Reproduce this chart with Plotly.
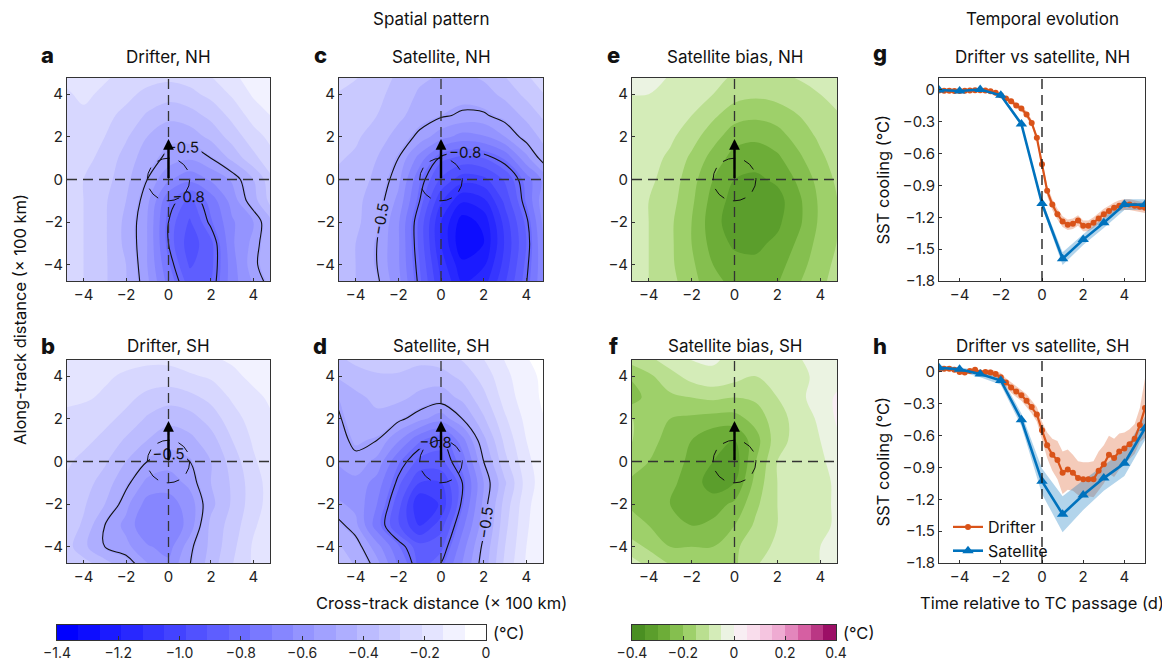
import numpy as np
import plotly.graph_objects as go

# window is 1170x663; the page body adds an 8px margin, so the figure is drawn 8px in
W_WIN, H_WIN = 1170, 663
OFF = 8
W, H = W_WIN - OFF, H_WIN - OFF
FONT = "Inter"

# ---------------- spatial composites (value grids, rows from y=+5 down to y=-5) ----------------
GRID_X = [-5, -4, -3, -2, -1, 0, 1, 2, 3, 4, 5]
GRID_Y = [5, 4, 3, 2, 1, 0, -1, -2, -3, -4, -5]

DRIFTER_NH = [
    [-0.20, -0.18, -0.20, -0.22, -0.24, -0.25, -0.24, -0.20, -0.15, -0.10, -0.08],
    [-0.22, -0.20, -0.22, -0.26, -0.30, -0.32, -0.30, -0.26, -0.20, -0.13, -0.10],
    [-0.22, -0.22, -0.26, -0.30, -0.36, -0.40, -0.38, -0.33, -0.26, -0.18, -0.13],
    [-0.22, -0.24, -0.28, -0.34, -0.42, -0.47, -0.46, -0.40, -0.32, -0.24, -0.18],
    [-0.24, -0.26, -0.30, -0.38, -0.46, -0.52, -0.55, -0.50, -0.40, -0.30, -0.22],
    [-0.26, -0.28, -0.32, -0.40, -0.50, -0.62, -0.68, -0.62, -0.55, -0.42, -0.28],
    [-0.26, -0.28, -0.34, -0.42, -0.54, -0.76, -0.86, -0.74, -0.60, -0.45, -0.30],
    [-0.26, -0.28, -0.34, -0.44, -0.56, -0.80, -0.92, -0.78, -0.64, -0.56, -0.40],
    [-0.26, -0.28, -0.34, -0.44, -0.56, -0.80, -0.95, -0.86, -0.64, -0.54, -0.40],
    [-0.26, -0.28, -0.34, -0.42, -0.56, -0.76, -0.92, -0.86, -0.66, -0.52, -0.42],
    [-0.26, -0.28, -0.34, -0.42, -0.54, -0.72, -0.86, -0.84, -0.66, -0.56, -0.46],
]

SATELLITE_NH = [
    [-0.26, -0.27, -0.30, -0.36, -0.40, -0.42, -0.42, -0.40, -0.34, -0.28, -0.22],
    [-0.28, -0.30, -0.33, -0.38, -0.43, -0.46, -0.47, -0.45, -0.40, -0.33, -0.27],
    [-0.30, -0.32, -0.35, -0.40, -0.46, -0.49, -0.51, -0.51, -0.47, -0.40, -0.32],
    [-0.32, -0.34, -0.38, -0.45, -0.52, -0.60, -0.66, -0.64, -0.56, -0.47, -0.38],
    [-0.34, -0.36, -0.42, -0.50, -0.66, -0.82, -0.86, -0.84, -0.76, -0.58, -0.44],
    [-0.36, -0.38, -0.44, -0.54, -0.76, -0.92, -1.02, -1.00, -0.90, -0.74, -0.58],
    [-0.36, -0.40, -0.46, -0.58, -0.80, -1.04, -1.18, -1.14, -0.96, -0.76, -0.54],
    [-0.36, -0.40, -0.48, -0.62, -0.86, -1.12, -1.30, -1.24, -1.02, -0.82, -0.56],
    [-0.38, -0.42, -0.50, -0.62, -0.86, -1.12, -1.32, -1.26, -1.04, -0.84, -0.58],
    [-0.38, -0.42, -0.50, -0.62, -0.84, -1.08, -1.24, -1.20, -1.02, -0.82, -0.60],
    [-0.38, -0.42, -0.48, -0.60, -0.82, -1.04, -1.18, -1.14, -0.98, -0.80, -0.60],
]

DRIFTER_SH = [
    [-0.12, -0.14, -0.16, -0.18, -0.18, -0.18, -0.16, -0.14, -0.12, -0.10, -0.08],
    [-0.18, -0.18, -0.20, -0.22, -0.24, -0.24, -0.22, -0.20, -0.16, -0.12, -0.10],
    [-0.20, -0.20, -0.22, -0.26, -0.30, -0.32, -0.30, -0.26, -0.20, -0.16, -0.12],
    [-0.22, -0.24, -0.26, -0.30, -0.36, -0.40, -0.38, -0.32, -0.24, -0.18, -0.14],
    [-0.24, -0.26, -0.30, -0.36, -0.42, -0.46, -0.44, -0.38, -0.28, -0.20, -0.15],
    [-0.26, -0.30, -0.34, -0.42, -0.50, -0.53, -0.50, -0.42, -0.32, -0.22, -0.16],
    [-0.28, -0.32, -0.38, -0.48, -0.58, -0.60, -0.54, -0.42, -0.34, -0.24, -0.17],
    [-0.30, -0.34, -0.42, -0.54, -0.66, -0.66, -0.60, -0.44, -0.34, -0.24, -0.17],
    [-0.30, -0.36, -0.50, -0.58, -0.70, -0.70, -0.60, -0.40, -0.32, -0.22, -0.16],
    [-0.30, -0.40, -0.50, -0.54, -0.62, -0.66, -0.52, -0.40, -0.30, -0.20, -0.15],
    [-0.28, -0.30, -0.36, -0.44, -0.54, -0.60, -0.50, -0.38, -0.28, -0.20, -0.15],
]

SATELLITE_SH = [
    [-0.36, -0.32, -0.30, -0.30, -0.32, -0.30, -0.26, -0.20, -0.13, -0.07, -0.04],
    [-0.42, -0.38, -0.36, -0.36, -0.38, -0.38, -0.33, -0.25, -0.16, -0.09, -0.05],
    [-0.50, -0.44, -0.40, -0.40, -0.44, -0.46, -0.40, -0.30, -0.18, -0.10, -0.05],
    [-0.52, -0.46, -0.44, -0.48, -0.54, -0.60, -0.50, -0.36, -0.22, -0.12, -0.06],
    [-0.54, -0.48, -0.50, -0.62, -0.76, -0.82, -0.66, -0.44, -0.26, -0.14, -0.07],
    [-0.56, -0.52, -0.58, -0.76, -0.86, -0.86, -0.74, -0.50, -0.30, -0.16, -0.08],
    [-0.60, -0.58, -0.66, -0.82, -0.98, -0.98, -0.80, -0.56, -0.36, -0.18, -0.08],
    [-0.54, -0.58, -0.70, -0.88, -1.12, -1.04, -0.78, -0.54, -0.32, -0.16, -0.07],
    [-0.46, -0.54, -0.74, -0.90, -1.06, -0.94, -0.72, -0.52, -0.30, -0.15, -0.07],
    [-0.40, -0.46, -0.60, -0.76, -0.88, -0.86, -0.66, -0.48, -0.28, -0.14, -0.07],
    [-0.36, -0.42, -0.52, -0.70, -0.84, -0.78, -0.62, -0.46, -0.26, -0.13, -0.07],
]

BIAS_NH = [
    [-0.04, -0.04, -0.05, -0.06, -0.08, -0.10, -0.10, -0.10, -0.09, -0.08, -0.07],
    [-0.05, -0.05, -0.06, -0.08, -0.10, -0.13, -0.14, -0.13, -0.12, -0.10, -0.08],
    [-0.06, -0.06, -0.07, -0.10, -0.14, -0.18, -0.19, -0.18, -0.15, -0.12, -0.10],
    [-0.07, -0.07, -0.09, -0.13, -0.18, -0.23, -0.24, -0.22, -0.18, -0.14, -0.11],
    [-0.07, -0.08, -0.11, -0.16, -0.22, -0.27, -0.28, -0.26, -0.21, -0.16, -0.12],
    [-0.08, -0.09, -0.12, -0.18, -0.25, -0.30, -0.31, -0.29, -0.24, -0.18, -0.13],
    [-0.08, -0.10, -0.13, -0.19, -0.27, -0.32, -0.34, -0.32, -0.26, -0.19, -0.14],
    [-0.08, -0.10, -0.14, -0.20, -0.28, -0.33, -0.33, -0.31, -0.26, -0.19, -0.14],
    [-0.09, -0.10, -0.14, -0.20, -0.27, -0.31, -0.31, -0.29, -0.24, -0.18, -0.14],
    [-0.08, -0.10, -0.14, -0.19, -0.25, -0.28, -0.29, -0.27, -0.22, -0.17, -0.13],
    [-0.08, -0.10, -0.13, -0.18, -0.23, -0.26, -0.27, -0.25, -0.20, -0.16, -0.12],
]

BIAS_SH = [
    [-0.12, -0.10, -0.06, -0.04, -0.04, -0.06, -0.08, -0.07, -0.05, -0.04, -0.04],
    [-0.20, -0.16, -0.12, -0.08, -0.06, -0.08, -0.10, -0.08, -0.06, -0.04, -0.02],
    [-0.24, -0.18, -0.16, -0.15, -0.14, -0.15, -0.14, -0.10, -0.06, -0.03, 0.02],
    [-0.14, -0.18, -0.20, -0.21, -0.22, -0.22, -0.18, -0.12, -0.08, -0.04, 0.02],
    [-0.14, -0.18, -0.22, -0.25, -0.29, -0.30, -0.22, -0.12, -0.08, -0.05, 0.00],
    [-0.16, -0.20, -0.23, -0.26, -0.30, -0.33, -0.20, -0.10, -0.08, -0.06, -0.02],
    [-0.20, -0.22, -0.24, -0.27, -0.33, -0.30, -0.18, -0.10, -0.08, -0.06, -0.04],
    [-0.20, -0.22, -0.25, -0.28, -0.27, -0.24, -0.16, -0.10, -0.07, -0.06, -0.04],
    [-0.18, -0.20, -0.24, -0.25, -0.24, -0.20, -0.14, -0.10, -0.07, -0.06, -0.04],
    [-0.12, -0.16, -0.20, -0.20, -0.20, -0.16, -0.12, -0.09, -0.06, -0.05, -0.04],
    [-0.06, -0.10, -0.14, -0.16, -0.18, -0.16, -0.10, -0.08, -0.06, -0.05, -0.04],
]

CONTOUR_LINE_LEVELS = [-0.8, -0.5]

# ---------------- temporal evolution ----------------
T_DRIFTER = [-5.0, -4.75, -4.5, -4.25, -4.0, -3.75, -3.5, -3.25, -3.0, -2.75, -2.5, -2.25,
             -2.0, -1.75, -1.5, -1.25, -1.0, -0.75, -0.5, -0.25, 0.0, 0.25, 0.5, 0.75,
             1.0, 1.25, 1.5, 1.75, 2.0, 2.25, 2.5, 2.75, 3.0, 3.25, 3.5, 3.75,
             4.0, 4.25, 4.5, 4.75, 5.0]
T_SATELLITE = [-5, -4, -3, -2, -1, 0, 1, 2, 3, 4, 5]

DRIFTER_NH_T = [-0.005, -0.006, -0.008, -0.010, -0.010, -0.008, -0.004, -0.002, -0.002, -0.005, -0.012, -0.025,
                -0.05, -0.08, -0.105, -0.145, -0.175, -0.23, -0.31, -0.45, -0.70, -0.95, -1.08, -1.17,
                -1.24, -1.27, -1.26, -1.23, -1.28, -1.28, -1.25, -1.21, -1.17, -1.14, -1.11, -1.09,
                -1.08, -1.08, -1.09, -1.10, -1.11]
DRIFTER_NH_ERR = [0.02, 0.02, 0.02, 0.02, 0.02, 0.02, 0.02, 0.02, 0.02, 0.02, 0.02, 0.02,
                  0.02, 0.02, 0.025, 0.025, 0.025, 0.03, 0.03, 0.03, 0.04, 0.05, 0.05, 0.05,
                  0.05, 0.05, 0.05, 0.05, 0.05, 0.05, 0.05, 0.05, 0.05, 0.05, 0.05, 0.05,
                  0.05, 0.05, 0.05, 0.05, 0.05]
SATELLITE_NH_T = [0.0, -0.01, 0.005, -0.05, -0.32, -1.07, -1.59, -1.41, -1.25, -1.08, -1.08]
SATELLITE_NH_ERR = [0.01, 0.01, 0.01, 0.015, 0.02, 0.03, 0.06, 0.05, 0.05, 0.05, 0.05]

DRIFTER_SH_T = [0.025, 0.03, 0.03, 0.02, 0.0, -0.005, 0.01, 0.02, -0.005, 0.0, -0.005, -0.02,
                -0.05, -0.10, -0.145, -0.185, -0.22, -0.27, -0.33, -0.40, -0.55, -0.69, -0.78, -0.83,
                -0.95, -0.92, -0.95, -1.00, -1.01, -1.01, -1.01, -0.93, -0.87, -0.78, -0.81, -0.75,
                -0.72, -0.68, -0.63, -0.50, -0.34]
DRIFTER_SH_ERR = [0.02, 0.02, 0.02, 0.02, 0.02, 0.02, 0.02, 0.02, 0.02, 0.02, 0.03, 0.03,
                  0.04, 0.04, 0.05, 0.05, 0.05, 0.06, 0.06, 0.07, 0.08, 0.12, 0.15, 0.18,
                  0.2, 0.19, 0.17, 0.16, 0.16, 0.16, 0.17, 0.18, 0.18, 0.18, 0.18, 0.17,
                  0.15, 0.14, 0.14, 0.16, 0.28]
SATELLITE_SH_T = [0.04, 0.025, -0.02, -0.08, -0.45, -1.03, -1.34, -1.16, -1.0, -0.86, -0.53]
SATELLITE_SH_ERR = [0.02, 0.02, 0.03, 0.04, 0.06, 0.12, 0.17, 0.14, 0.12, 0.12, 0.11]

# ---------------- colour scales ----------------
BLUE_MIN, BLUE_MAX, BLUE_STEP = -1.4, 0.0, 0.07
GREEN_MIN, GREEN_MAX, GREEN_STEP = -0.4, 0.4, 0.05
BLUE_TICKS = [-1.4, -1.2, -1.0, -0.8, -0.6, -0.4, -0.2, 0]
BLUE_TICK_LABELS = ["\u22121.4", "\u22121.2", "\u22121.0", "\u22120.8", "\u22120.6", "\u22120.4", "\u22120.2", "0"]
GREEN_TICKS = [-0.4, -0.2, 0, 0.2, 0.4]
GREEN_TICK_LABELS = ["\u22120.4", "\u22120.2", "0", "0.2", "0.4"]
BLUE_SCALE = [[0, "#0000ff"], [1, "#ffffff"]]
GREEN_SCALE = [[0, "#4a8f22"], [0.125, "#6aab35"], [0.25, "#97cc60"], [0.375, "#cbe9a8"],
               [0.5, "#f7f7f7"], [0.625, "#f9d6e9"], [0.75, "#eda4cf"], [0.875, "#d45a9f"],
               [1, "#9c0f66"]]

ORANGE = "#D95319"
BLUE = "#0072BD"

MAP_TICKS = [-4, -2, 0, 2, 4]
COOL_TICKS = [0, -0.3, -0.6, -0.9, -1.2, -1.5, -1.8]

# ---------------- layout geometry (window pixels) ----------------
MAP_COLS = [(67, 270), (339, 543), (632, 837)]
LINE_COL = (939, 1145)
ROWS = [(78, 281), (360, 563)]
CBAR_ROW = (625, 640)
TICK_SIZE = 15
TITLE_SIZE = 17
LABEL_SIZE = 16.5


def px(x):
    return (x - OFF) / W


def py(y):
    return 1 - (y - OFF) / H


def dx(a, b):
    return [px(a), px(b)]


def dy(top, bottom):
    return [py(bottom), py(top)]


fig = go.Figure()
layout = dict(width=W, height=H, margin=dict(l=0, r=0, t=0, b=0, autoexpand=False),
              paper_bgcolor="white", plot_bgcolor="white",
              font=dict(family=FONT, size=TICK_SIZE, color="#222"), showlegend=True)
shapes, annotations = [], []

axis_common = dict(showline=True, mirror=True, linecolor="#333", linewidth=1,
                   ticks="inside", ticklen=3, tickcolor="#333", automargin=False,
                   tickfont=dict(family=FONT, size=TICK_SIZE, color="#222"),
                   showgrid=False, zeroline=False)

gy_asc = GRID_Y[::-1]

panels = [
    (1, "blue", DRIFTER_NH, "Drifter, NH", "a", 0, 0),
    (2, "blue", SATELLITE_NH, "Satellite, NH", "c", 1, 0),
    (3, "green", BIAS_NH, "Satellite bias, NH", "e", 2, 0),
    (5, "blue", DRIFTER_SH, "Drifter, SH", "b", 0, 1),
    (6, "blue", SATELLITE_SH, "Satellite, SH", "d", 1, 1),
    (7, "green", BIAS_SH, "Satellite bias, SH", "f", 2, 1),
]


def ax_names(i):
    s = "" if i == 1 else str(i)
    return "x" + s, "y" + s, "xaxis" + s, "yaxis" + s


def add_text(text, x, y, size=TITLE_SIZE, angle=0, xanchor="center", bold=False):
    f = dict(family=FONT, size=size, color="#111")
    if bold:
        f["weight"] = 800
    annotations.append(dict(text=text, x=px(x), y=py(y), xref="paper", yref="paper",
                            showarrow=False, xanchor=xanchor, yanchor="middle",
                            textangle=angle, font=f))


for (i, kind, data, title, letter, col, row) in panels:
    xr, yr, xa, ya = ax_names(i)
    z = data[::-1]
    if kind == "blue":
        scale, lo, hi, st = BLUE_SCALE, BLUE_MIN, BLUE_MAX, BLUE_STEP
    else:
        scale, lo, hi, st = GREEN_SCALE, GREEN_MIN, GREEN_MAX, GREEN_STEP
    fig.add_trace(go.Contour(x=GRID_X, y=gy_asc, z=z, xaxis=xr, yaxis=yr,
                             colorscale=scale, autocontour=False,
                             contours=dict(start=lo + st, end=hi - st / 2, size=st,
                                           coloring="fill", showlines=False),
                             line=dict(width=0, smoothing=1.0),
                             showscale=False, hoverinfo="skip", showlegend=False))
    if kind == "blue":
        fig.add_trace(go.Contour(x=GRID_X, y=gy_asc, z=z, xaxis=xr, yaxis=yr,
                                 autocontour=False,
                                 contours=dict(start=CONTOUR_LINE_LEVELS[0], end=CONTOUR_LINE_LEVELS[1] + 0.01,
                                               size=CONTOUR_LINE_LEVELS[1] - CONTOUR_LINE_LEVELS[0],
                                               coloring="none", showlabels=True, labelformat=".1f",
                                               labelfont=dict(family=FONT, size=15, color="#111")),
                                 line=dict(color="#111", width=1.1, smoothing=1.0),
                                 showscale=False, hoverinfo="skip", showlegend=False))
    x0, x1 = MAP_COLS[col]
    t0, t1 = ROWS[row]
    layout[xa] = dict(axis_common, domain=dx(x0, x1), range=[-4.78, 4.78], tickvals=MAP_TICKS, anchor=yr)
    layout[ya] = dict(axis_common, domain=dy(t0, t1), range=[-4.76, 4.76], tickvals=MAP_TICKS, anchor=xr)
    dash = dict(color="#333", width=1.3, dash="10px,6px")
    shapes.append(dict(type="line", xref=xr, yref=ya.replace("yaxis", "y") + " domain",
                       x0=0, x1=0, y0=0, y1=1, line=dash, layer="above"))
    shapes.append(dict(type="line", xref=xa.replace("xaxis", "x") + " domain", yref=yr,
                       x0=0, x1=1, y0=0, y1=0, line=dash, layer="above"))
    shapes.append(dict(type="circle", xref=xr, yref=yr, x0=-1, y0=-1, x1=1, y1=1,
                       line=dict(color="#111", width=1, dash="13px,9px"), layer="above"))
    annotations.append(dict(x=0, y=1.9, ax=0, ay=0, xref=xr, yref=yr, axref=xr, ayref=yr,
                            text="", showarrow=True, arrowhead=2, arrowsize=0.9, arrowwidth=2.4,
                            arrowcolor="#000"))
    add_text(title, (x0 + x1) / 2, 57 if row == 0 else 346)
    add_text(letter, x0 - 19, 55 if row == 0 else 346, size=22, bold=True)

# ---------------- line panels ----------------
line_panels = [
    (4, 0, DRIFTER_NH_T, DRIFTER_NH_ERR, SATELLITE_NH_T, SATELLITE_NH_ERR, "Drifter vs satellite, NH", "g", False),
    (8, 1, DRIFTER_SH_T, DRIFTER_SH_ERR, SATELLITE_SH_T, SATELLITE_SH_ERR, "Drifter vs satellite, SH", "h", True),
]
for (i, row, dv, de, sv, se, title, letter, leg) in line_panels:
    xr, yr, xa, ya = ax_names(i)
    d_up = [v + e for v, e in zip(dv, de)]
    d_lo = [v - e for v, e in zip(dv, de)]
    s_up = [v + e for v, e in zip(sv, se)]
    s_lo = [v - e for v, e in zip(sv, se)]
    fig.add_trace(go.Scatter(x=T_DRIFTER + T_DRIFTER[::-1], y=d_up + d_lo[::-1], fill="toself",
                             fillcolor="rgba(217,83,25,0.3)", line=dict(width=0), mode="lines",
                             xaxis=xr, yaxis=yr, showlegend=False, hoverinfo="skip"))
    fig.add_trace(go.Scatter(x=T_SATELLITE + T_SATELLITE[::-1], y=s_up + s_lo[::-1], fill="toself",
                             fillcolor="rgba(0,114,189,0.3)", line=dict(width=0), mode="lines",
                             xaxis=xr, yaxis=yr, showlegend=False, hoverinfo="skip"))
    fig.add_trace(go.Scatter(x=T_DRIFTER, y=dv, mode="lines+markers", name="Drifter",
                             line=dict(color=ORANGE, width=2.2), marker=dict(symbol="circle", size=6, color=ORANGE),
                             xaxis=xr, yaxis=yr, showlegend=leg))
    fig.add_trace(go.Scatter(x=T_SATELLITE, y=sv, mode="lines+markers", name="Satellite",
                             line=dict(color=BLUE, width=2.6), marker=dict(symbol="triangle-up", size=10, color=BLUE),
                             xaxis=xr, yaxis=yr, showlegend=leg))
    x0, x1 = LINE_COL
    t0, t1 = ROWS[row]
    layout[xa] = dict(axis_common, domain=dx(x0, x1), range=[-5, 5], tickvals=MAP_TICKS, anchor=yr)
    layout[ya] = dict(axis_common, domain=dy(t0, t1), range=[-1.8, 0.113], tickvals=COOL_TICKS, anchor=xr)
    shapes.append(dict(type="line", xref=xr, yref=yr + " domain", x0=0, x1=0, y0=0, y1=1,
                       line=dict(color="#111", width=1.3, dash="10px,6px"), layer="above"))
    add_text(title, (x0 + x1) / 2, 57 if row == 0 else 346)
    add_text(letter, 880, 53 if row == 0 else 346, size=22, bold=True)
    add_text("SST cooling (\u00b0C)", 882, (t0 + t1) / 2, size=LABEL_SIZE, angle=-90)

# ---------------- colour bars ----------------
def add_bar(i, lo, hi, st, scale, ticks, labels, x0, x1):
    xr, yr, xa, ya = ax_names(i)
    n = int(round((hi - lo) / st))
    centers = [lo + st * (k + 0.5) for k in range(n)]
    fig.add_trace(go.Heatmap(x=centers, y=[0], z=[centers], colorscale=scale,
                             zmin=centers[0], zmax=centers[-1], showscale=False,
                             xaxis=xr, yaxis=yr, hoverinfo="skip"))
    layout[xa] = dict(axis_common, domain=dx(x0, x1), range=[lo, hi], tickvals=ticks,
                      ticktext=labels, anchor=yr, ticklen=4,
                      tickfont=dict(family=FONT, size=14, color="#222"))
    layout[ya] = dict(axis_common, domain=dy(*CBAR_ROW), range=[-0.5, 0.5], showticklabels=False,
                      ticks="", anchor=xr)
    add_text("(\u00b0C)", x1 + 5, (CBAR_ROW[0] + CBAR_ROW[1]) / 2, size=LABEL_SIZE, xanchor="left")


add_bar(9, BLUE_MIN, BLUE_MAX, BLUE_STEP, BLUE_SCALE, BLUE_TICKS, BLUE_TICK_LABELS, 57, 486)
add_bar(10, GREEN_MIN, GREEN_MAX, GREEN_STEP, GREEN_SCALE, GREEN_TICKS, GREEN_TICK_LABELS, 632, 836)

# ---------------- global texts ----------------
add_text("Spatial pattern", 431, 19)
add_text("Temporal evolution", 1042, 19)
add_text("Along-track distance (\u00d7 100 km)", 20, 320, size=LABEL_SIZE, angle=-90)
add_text("Cross-track distance (\u00d7 100 km)", 441, 603, size=LABEL_SIZE)
add_text("Time relative to TC passage (d)", 1042, 603, size=LABEL_SIZE)

layout["shapes"] = shapes
layout["annotations"] = annotations
layout["legend"] = dict(x=px(948), y=py(510), xanchor="left", yanchor="top",
                        bgcolor="rgba(0,0,0,0)", font=dict(family=FONT, size=16, color="#111"),
                        itemwidth=30, tracegroupgap=0)
fig.update_layout(**layout)
fig.write_html("out.html")
